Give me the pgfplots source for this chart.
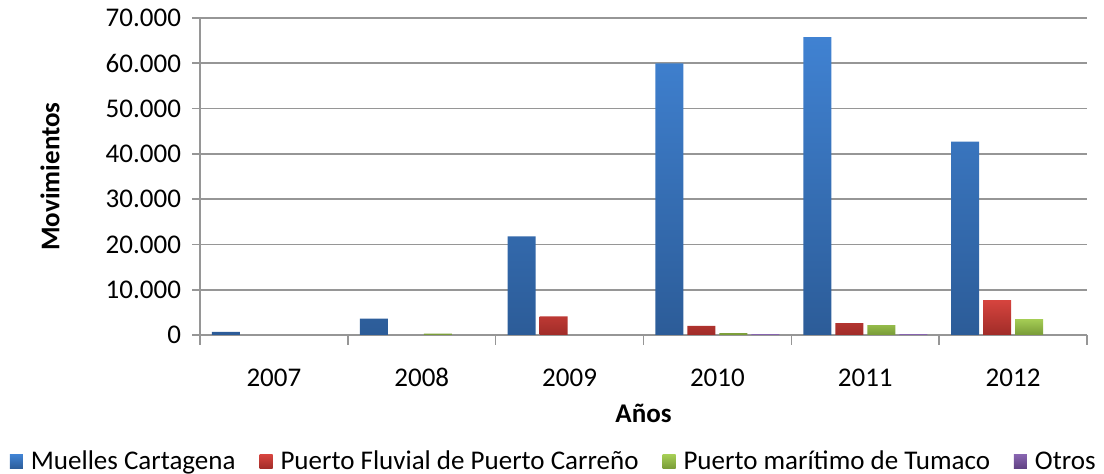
\documentclass[border=0pt]{standalone}
\usepackage{pgfplots}
\pgfplotsset{compat=1.18}
\usepackage{fontspec}
\setmainfont{Carlito}
\definecolor{cblueT}{RGB}{64,130,210}
\definecolor{cblueB}{RGB}{44,92,152}
\definecolor{credT}{RGB}{214,68,62}
\definecolor{credB}{RGB}{160,44,40}
\definecolor{cgreenT}{RGB}{165,205,85}
\definecolor{cgreenB}{RGB}{120,155,55}
\definecolor{cpurpT}{RGB}{135,100,175}
\definecolor{cpurpB}{RGB}{95,65,130}
\definecolor{gridg}{RGB}{150,150,150}
\begin{document}
\begin{tikzpicture}
\useasboundingbox (0,0) rectangle (552pt,237pt);
\begin{axis}[
  at={(100pt,69.5pt)}, anchor=south west,
  scale only axis, width=443.5pt, height=158.5pt,
  ybar, bar width=14pt,
  xmin=-0.5, xmax=5.5, ymin=0, ymax=70000,
  xtick={0,...,5}, xticklabels={2007,2008,2009,2010,2011,2012},
  major x tick style={draw=none},
  minor xtick={-0.5,0.5,1.5,2.5,3.5,4.5,5.5},
  minor x tick style={draw=gridg, line width=0.8pt},
  minor tick length=5pt,
  ytick={0,10000,...,70000},
  major tick length=4pt,
  tick align=outside,
  tick pos=left,
  y tick style={draw=gridg, line width=0.8pt},
  axis x line*=bottom, axis y line*=left,
  axis line style={draw=gridg, line width=0.8pt, -},
  ymajorgrids, grid style={draw=gridg, line width=0.8pt},
  /pgf/number format/.cd, 1000 sep={.}, assume math mode=true,
  /pgfplots/.cd,
  scaled y ticks=false,
  ticklabel style={font=\fontsize{13.5}{15}\selectfont},
  yticklabel style={xshift=-2pt},
  xticklabel style={anchor=center, yshift=-17.5pt, text height=9pt, text depth=0pt},
  ylabel={\textbf{Movimientos}},
  ylabel style={font=\fontsize{13.5}{15}\selectfont, at={(axis description cs:-0.169,0.5)}, anchor=center},
  xlabel={\textbf{Años}},
  xlabel style={font=\fontsize{13.5}{15}\selectfont, at={(axis description cs:0.5,-0.246)}, anchor=center},
  legend style={at={(0.4,-0.40)}, anchor=center, draw=none, legend columns=4, inner sep=0pt,
    font=\fontsize{13.5}{15}\selectfont,
    /tikz/every odd column/.append style={column sep=2pt},
    /tikz/every even column/.append style={column sep=10pt}},
  legend image code/.code={\draw[#1, draw=none] (0pt,-3.5pt) rectangle (6.5pt,3.5pt);},
]
\addplot[draw=none, top color=cblueT, bottom color=cblueB] coordinates {(0,700) (1,3600) (2,21800) (3,60000) (4,65800) (5,42700)};
\addplot[draw=none, top color=credT, bottom color=credB] coordinates {(2,4100) (3,2000) (4,2600) (5,7700)};
\addplot[draw=none, top color=cgreenT, bottom color=cgreenB] coordinates {(1,300) (3,400) (4,2200) (5,3500)};
\addplot[draw=none, top color=cpurpT, bottom color=cpurpB] coordinates {(3,200) (4,200)};
\legend{Muelles Cartagena, Puerto Fluvial de Puerto Carreño, Puerto marítimo de Tumaco, Otros}
\end{axis}
\end{tikzpicture}
\end{document}
